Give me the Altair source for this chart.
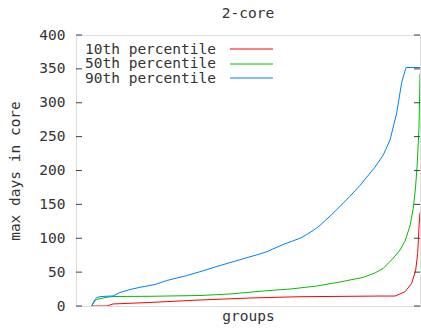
import altair as alt
import pandas as pd

# Groups are ranked 0..1000 along the x axis; values are max days in core.
rank_p10 = [45.6, 89.2, 107.6, 215, 360.5, 505.8, 651, 796.5, 883.7, 927.3, 956.4,
            975.9, 987.5, 993.3, 997.1, 1000]
days_p10 = [0, 0, 3, 5.2, 8.9, 11.8, 13.7, 14.3, 14.7, 14.7, 21,
            33.5, 53, 77.7, 117, 138]

rank_p50 = [45.6, 52.3, 60.2, 84.3, 107.6, 215, 360.5, 447.7, 554.4, 622, 699.7,
            767.4, 835.2, 869, 893.3, 922.4, 941.9, 956.4, 970.9, 980.5, 986.9,
            992.2, 997.1, 999, 1000]
days_p50 = [0, 5.9, 9.6, 12.5, 14, 14.3, 15.5, 17.7, 22.6, 25, 29.5,
            35.4, 42.3, 48.7, 55.6, 70.8, 82.6, 95.9, 118, 144.6, 174,
            211, 264, 314, 343]

rank_p90 = [45.6, 52.3, 60.2, 69.8, 84.3, 107.6, 127.9, 157, 186, 229.7, 263.7,
            317.4, 360.5, 404, 456.4, 496.2, 529, 554.4, 601.7, 651.2, 670.6,
            689.8, 709.3, 743.3, 767.4, 796.5, 825.6, 845, 869.2, 893.3, 912.8,
            932.3, 946.8, 959.3, 1000]
days_p90 = [0, 7.4, 12.5, 13.7, 14.3, 14.8, 19.9, 24.3, 27.6, 31.7, 37.6,
            44.3, 50.6, 57.5, 65.3, 71.2, 76, 80.1, 90.7, 100, 105.5,
            111.5, 119, 135, 147, 162, 178, 190, 205, 223, 245,
            285, 330, 352, 352]

series_names = ["10th percentile", "50th percentile", "90th percentile"]
series_colors = ["#ff0000", "#00c000", "#0080ff"]
y_ticks = [0, 50, 100, 150, 200, 250, 300, 350, 400]

FONT = "DejaVu Sans Mono"
FS = 14.5
TEXT_COLOR = "#333333"
FRAME = "#404040"
W, H = 344, 271

rows = []
for name, xs, ys in zip(series_names, [rank_p10, rank_p50, rank_p90],
                        [days_p10, days_p50, days_p90]):
    for i, (gx, gy) in enumerate(zip(xs, ys)):
        rows.append({"series": name, "rank": gx, "days": gy, "order": i})
df = pd.DataFrame(rows)

x_scale = alt.Scale(domain=[0, 1000], nice=False, zero=False)
y_scale = alt.Scale(domain=[0, 400], nice=False)
color_scale = alt.Scale(domain=series_names, range=series_colors)

y_axis = alt.Axis(title="max days in core", values=y_ticks, ticks=False,
                  tickSize=0, domain=False, grid=False, labelPadding=11,
                  labelOverlap=False, labelFont=FONT, labelFontSize=FS,
                  labelColor=TEXT_COLOR, titleFont=FONT, titleFontSize=FS,
                  titleFontWeight="normal", titleColor=TEXT_COLOR,
                  titlePadding=16)

lines = alt.Chart(df).mark_line(strokeWidth=1, clip=True).encode(
    x=alt.X("rank:Q", scale=x_scale,
            axis=alt.Axis(title="groups", labels=False, ticks=False, domain=False,
                          grid=False, titleFont=FONT, titleFontSize=FS,
                          titleFontWeight="normal", titleColor=TEXT_COLOR,
                          titlePadding=3)),
    y=alt.Y("days:Q", scale=y_scale, axis=y_axis),
    color=alt.Color("series:N", scale=color_scale, legend=None),
    order="order:Q",
)

# Inward tick marks on both the left and right frame edges
tick_df = pd.DataFrame({"days": y_ticks})
left_ticks = alt.Chart(tick_df).mark_rule(color=FRAME, strokeWidth=1).encode(
    y=alt.Y("days:Q", scale=y_scale, axis=y_axis), x=alt.value(0), x2=alt.value(6))
right_ticks = alt.Chart(tick_df).mark_rule(color=FRAME, strokeWidth=1).encode(
    y=alt.Y("days:Q", scale=y_scale, axis=y_axis), x=alt.value(W - 6), x2=alt.value(W))

# Key in the upper-left corner: label followed by a line sample
key_layers = []
for i, (name, col) in enumerate(zip(series_names, series_colors)):
    yy = 14.5 + i * 14.5
    key_layers.append(
        alt.Chart(pd.DataFrame({"series": [name]})).mark_text(
            align="left", baseline="middle", font=FONT, fontSize=FS,
            color=TEXT_COLOR).encode(
            x=alt.value(9), y=alt.value(yy), text="series:N"))
    key_layers.append(
        alt.Chart(pd.DataFrame({"series": [name]})).mark_rule(
            color=col, stroke=col, strokeWidth=1).encode(
            x=alt.value(154), x2=alt.value(197), y=alt.value(int(yy))))

chart = alt.layer(lines, left_ticks, right_ticks, *key_layers).properties(
    width=W, height=H,
    title=alt.TitleParams("2-core", font=FONT, fontSize=FS, fontWeight="normal",
                          color=TEXT_COLOR, anchor="middle", offset=6),
    padding={"left": 76, "top": 35, "right": 1, "bottom": 23},
    autosize=alt.AutoSizeParams(type="none"),
).configure_view(stroke=FRAME, strokeWidth=1).configure(background="white")

chart.save("out.html", embed_options={"renderer": "svg", "actions": False})
